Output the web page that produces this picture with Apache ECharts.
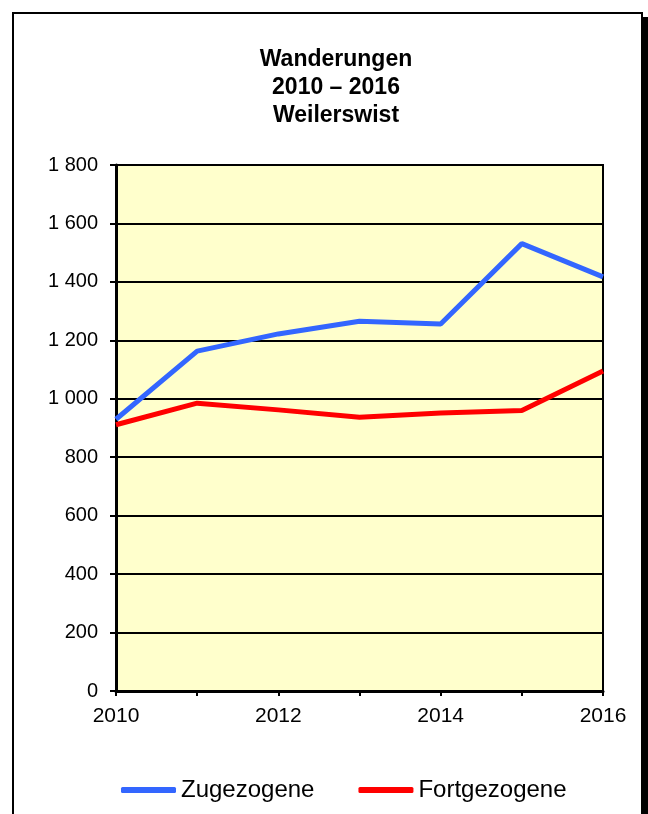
<!DOCTYPE html>
<html>
<head>
<meta charset="utf-8">
<script src="https://cdn.jsdelivr.net/npm/echarts@6/dist/echarts.min.js"></script>
<style>
html,body{margin:0;padding:0;background:#fff;}
#frame{position:absolute;left:12px;top:12px;width:627px;height:900px;border:2px solid #000;background:#fff;box-shadow:6px 5px 0 #000;}
#chart{position:absolute;left:0;top:0;width:648px;height:814px;}
</style>
</head>
<body>
<div id="frame"></div>
<div id="chart"></div>
<script>
const years = ['2010','2011','2012','2013','2014','2015','2016'];
const zugezogene = [930, 1163, 1222, 1265, 1256, 1531, 1417];
const fortgezogene = [911, 985, 962, 937, 951, 960, 1095];
const yTicks = {min: 0, max: 1800, interval: 200};

const FONT = 'Liberation Sans, Arial, sans-serif';
const fmt = v => String(v).replace(/\B(?=(\d{3})+(?!\d))/g, ' ');

const chart = echarts.init(document.getElementById('chart'));
chart.setOption({
  animation: false,
  title: {
    text: 'Wanderungen\n2010 – 2016\nWeilerswist',
    left: 331, top: 41, textAlign: 'center',
    textStyle: {fontFamily: FONT, fontSize: 23, fontWeight: 'bold', color: '#000', lineHeight: 28}
  },
  legend: {
    left: 121, top: 777, padding: 0,
    itemWidth: 55, itemHeight: 6, itemGap: 44,
    icon: 'roundRect',
    textStyle: {fontFamily: FONT, fontSize: 24, color: '#000', lineHeight: 26},
    data: ['Zugezogene', 'Fortgezogene']
  },
  grid: {
    left: 116, right: 45, top: 165, bottom: 123,
    show: true, backgroundColor: '#FFFFCC', borderColor: '#000', borderWidth: 2
  },
  xAxis: {
    type: 'category', data: years, boundaryGap: false,
    axisLine: {lineStyle: {color: '#000', width: 3}},
    axisTick: {show: true, interval: 0, length: 5, lineStyle: {color: '#000', width: 2}},
    axisLabel: {interval: 1, margin: 15, fontFamily: FONT, fontSize: 21, color: '#000'},
    splitLine: {show: false}
  },
  yAxis: {
    type: 'value', min: yTicks.min, max: yTicks.max, interval: yTicks.interval,
    axisLine: {show: true, lineStyle: {color: '#000', width: 3}},
    axisTick: {show: true, length: 6, lineStyle: {color: '#000', width: 2}},
    axisLabel: {margin: 18, fontFamily: FONT, fontSize: 20, color: '#000', formatter: fmt},
    splitLine: {show: true, lineStyle: {color: '#000', width: 2}}
  },
  series: [
    {name: 'Zugezogene', type: 'line', data: zugezogene, symbol: 'none',
     color: '#3366FF', lineStyle: {width: 5, color: '#3366FF'}},
    {name: 'Fortgezogene', type: 'line', data: fortgezogene, symbol: 'none',
     color: '#FF0000', lineStyle: {width: 5, color: '#FF0000'}}
  ]
});
</script>
</body>
</html>
